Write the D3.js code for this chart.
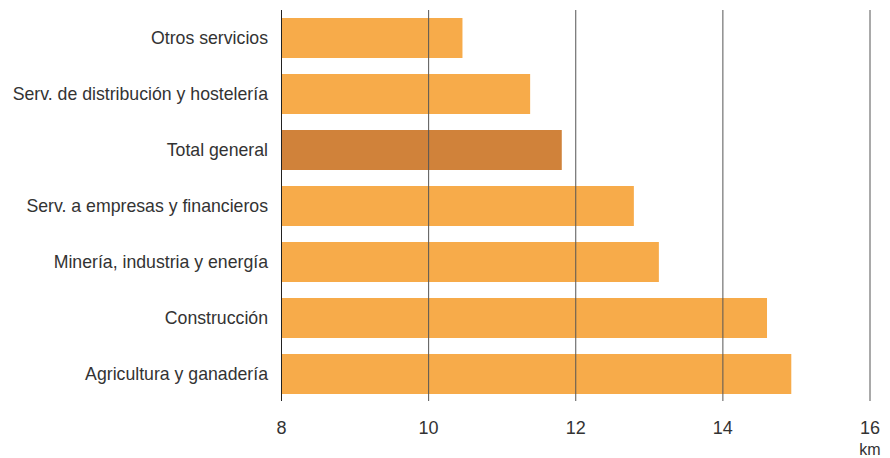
<!DOCTYPE html>
<html><head><meta charset="utf-8">
<script src="https://cdn.jsdelivr.net/npm/d3@7"></script>
<style>body{margin:0;background:#fff}svg{display:block}text{font-family:"Liberation Sans",Arial,sans-serif;fill:#333}</style>
</head><body>
<svg id="c" width="890" height="458"></svg>
<script>
const categories = ["Otros servicios","Serv. de distribución y hostelería","Total general","Serv. a empresas y financieros","Minería, industria y energía","Construcción","Agricultura y ganadería"];
const values = [10.46, 11.38, 11.81, 12.79, 13.13, 14.6, 14.93];
const highlight = ["Total general"];
const tickValues = [8, 10, 12, 14, 16];
const unitLabel = "km";

const svg = d3.select("#c");
const x = d3.scaleLinear().domain([8,16]).range([281.5,870]);
const y = d3.scaleBand().domain(categories).range([10,402]).paddingInner(0.2857).paddingOuter(0.1429);

svg.append("g").selectAll("rect").data(categories).join("rect")
  .attr("x", x(8)).attr("y", d=>y(d))
  .attr("width", (d,i)=>x(values[i])-x(8)).attr("height", y.bandwidth())
  .attr("fill", d=>highlight.includes(d) ? "#D0823A" : "#F7AB4A");

svg.append("g").selectAll("line").data(tickValues).join("line")
  .attr("x1", d=>x(d)).attr("x2", d=>x(d)).attr("y1", 10).attr("y2", 401)
  .attr("stroke", d=>d===8?"#222":"#555").attr("stroke-width", 1);

svg.append("g").selectAll("text").data(tickValues).join("text")
  .attr("x", d=>x(d)).attr("y", 434).attr("text-anchor","middle")
  .style("font-size","18px").text(d=>d);

svg.append("text").attr("x", x(16)).attr("y", 455).attr("text-anchor","middle")
  .style("font-size","16px").text(unitLabel);

svg.append("g").selectAll("text").data(categories).join("text")
  .attr("x", 268).attr("y", d=>y(d)+y.bandwidth()/2).attr("dy","0.35em")
  .attr("text-anchor","end").style("font-size","17.7px").text(d=>d);
</script>
</body></html>
